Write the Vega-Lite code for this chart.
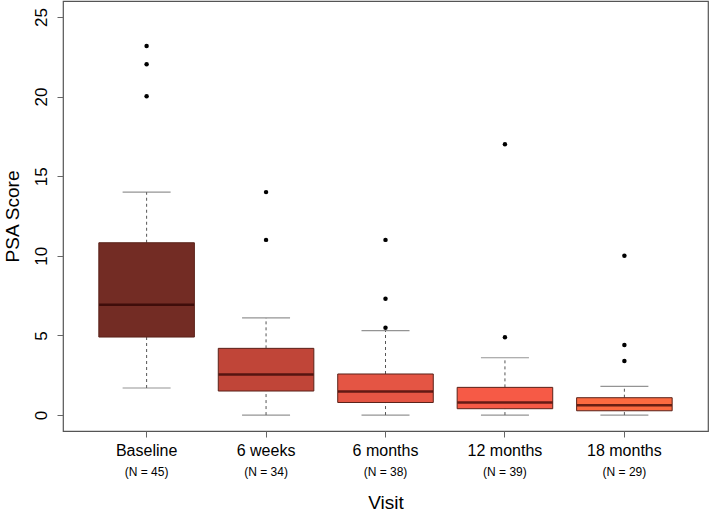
{
  "$schema": "https://vega.github.io/schema/vega-lite/v6.json",
  "width": 645,
  "height": 430,
  "autosize": {"type": "none"},
  "padding": {"left": 63, "top": 1, "right": 1, "bottom": 81},
  "background": "white",
  "config": {
    "view": {"stroke": "#555555", "strokeWidth": 1.2},
    "font": "Liberation Sans",
    "axis": {"grid": false, "domain": false, "tickColor": "#666666", "labelColor": "#000000", "titleColor": "#000000", "labelFont": "Liberation Sans", "titleFont": "Liberation Sans", "titleFontWeight": "normal"}
  },
  "datasets": {
    "boxes": [
      {"visit": "Baseline", "n": "(N = 45)", "lower": 1.7, "q1": 4.9, "median": 6.92, "q3": 10.82, "upper": 14.0},
      {"visit": "6 weeks", "n": "(N = 34)", "lower": 0.0, "q1": 1.51, "median": 2.55, "q3": 4.19, "upper": 6.1},
      {"visit": "6 months", "n": "(N = 38)", "lower": 0.0, "q1": 0.79, "median": 1.48, "q3": 2.58, "upper": 5.3},
      {"visit": "12 months", "n": "(N = 39)", "lower": 0.0, "q1": 0.4, "median": 0.79, "q3": 1.74, "upper": 3.6},
      {"visit": "18 months", "n": "(N = 29)", "lower": 0.0, "q1": 0.27, "median": 0.61, "q3": 1.09, "upper": 1.8}
    ],
    "outliers": [
      {"visit": "Baseline", "value": 23.18},
      {"visit": "Baseline", "value": 22.03},
      {"visit": "Baseline", "value": 20.02},
      {"visit": "6 weeks", "value": 14.0},
      {"visit": "6 weeks", "value": 11.0},
      {"visit": "6 months", "value": 11.0},
      {"visit": "6 months", "value": 7.3},
      {"visit": "6 months", "value": 5.49},
      {"visit": "12 months", "value": 17.0},
      {"visit": "12 months", "value": 4.88},
      {"visit": "18 months", "value": 10.0},
      {"visit": "18 months", "value": 4.4},
      {"visit": "18 months", "value": 3.4}
    ]
  },
  "encoding": {
    "x": {
      "field": "visit",
      "type": "nominal",
      "sort": ["Baseline", "6 weeks", "6 months", "12 months", "18 months"],
      "scale": {"type": "band", "paddingInner": 0.2, "paddingOuter": 0.3},
      "axis": {
        "title": "Visit",
        "titleFontSize": 19,
        "titlePadding": 35,
        "labelAngle": 0,
        "labelFontSize": 16,
        "labelPadding": 5,
        "tickSize": 6
      }
    }
  },
  "layer": [
    {
      "data": {"name": "boxes"},
      "mark": {"type": "rule", "strokeDash": [3, 3], "color": "#555555", "strokeWidth": 1},
      "encoding": {
        "y": {"field": "lower", "type": "quantitative", "scale": {"domain": [-1, 26], "nice": false, "zero": false},
          "axis": {"title": "PSA Score", "titleFontSize": 19, "titlePadding": 10, "values": [0, 5, 10, 15, 20, 25], "labelAngle": 270, "labelAlign": "center", "labelBaseline": "bottom", "labelFontSize": 17, "labelPadding": 7, "tickSize": 6}},
        "y2": {"field": "q1"}
      }
    },
    {
      "data": {"name": "boxes"},
      "mark": {"type": "rule", "strokeDash": [3, 3], "color": "#555555", "strokeWidth": 1},
      "encoding": {
        "y": {"field": "q3", "type": "quantitative"},
        "y2": {"field": "upper"}
      }
    },
    {
      "data": {"name": "boxes"},
      "mark": {"type": "tick", "orient": "horizontal", "size": 48, "thickness": 1.2, "color": "#666666"},
      "encoding": {"y": {"field": "lower", "type": "quantitative"}}
    },
    {
      "data": {"name": "boxes"},
      "mark": {"type": "tick", "orient": "horizontal", "size": 48, "thickness": 1.2, "color": "#666666"},
      "encoding": {"y": {"field": "upper", "type": "quantitative"}}
    },
    {
      "data": {"name": "boxes"},
      "mark": {"type": "bar", "stroke": "#5a2219", "strokeWidth": 1},
      "encoding": {
        "y": {"field": "q1", "type": "quantitative"},
        "y2": {"field": "q3"},
        "color": {
          "field": "visit",
          "type": "nominal",
          "scale": {"domain": ["Baseline", "6 weeks", "6 months", "12 months", "18 months"], "range": ["#732c24", "#c04538", "#e45544", "#f65a46", "#fc6a40"]},
          "legend": null
        }
      }
    },
    {
      "data": {"name": "boxes"},
      "mark": {"type": "tick", "orient": "horizontal", "size": 95, "thickness": 2.5, "color": "#2a0000"},
      "encoding": {"y": {"field": "median", "type": "quantitative"}}
    },
    {
      "data": {"name": "outliers"},
      "mark": {"type": "circle", "size": 20, "color": "#000000", "opacity": 1},
      "encoding": {"y": {"field": "value", "type": "quantitative"}}
    },
    {
      "data": {"name": "boxes"},
      "mark": {"type": "text", "fontSize": 12, "baseline": "middle", "align": "center", "dy": 41, "color": "#000000", "font": "Liberation Sans"},
      "encoding": {
        "y": {"datum": -1, "type": "quantitative"},
        "text": {"field": "n", "type": "nominal"}
      }
    }
  ]
}
